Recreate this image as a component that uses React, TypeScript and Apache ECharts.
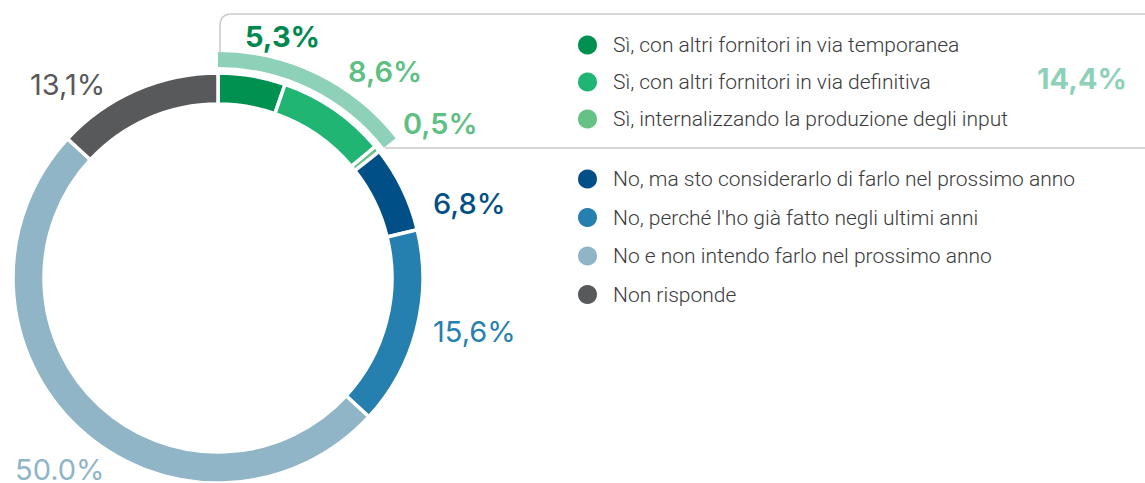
import React, { useEffect, useRef } from "react";
import * as echarts from "echarts";

const categories = [
  "Sì, con altri fornitori in via temporanea",
  "Sì, con altri fornitori in via definitiva",
  "Sì, internalizzando la produzione degli input",
  "No, ma sto considerarlo di farlo nel prossimo anno",
  "No, perché l'ho già fatto negli ultimi anni",
  "No e non intendo farlo nel prossimo anno",
  "Non risponde",
];
const values = [5.3, 8.6, 0.5, 6.8, 15.6, 50.0, 13.1];
const valueLabels = ["5,3%", "8,6%", "0,5%", "6,8%", "15,6%", "50.0%", "13,1%"];
const colors = ["#00904f", "#21b573", "#66c185", "#004f87", "#2580b0", "#8fb5c6", "#58595b"];
const labelColors = ["#00894f", "#5fbf84", "#5fbf84", "#004f86", "#2680b0", "#8fb5c7", "#58585a"];
const labelWeights = [700, 600, 600, 500, 400, 400, 400];
const labelPos: [number, number][] = [
  [245, 36],
  [348, 71],
  [403, 123],
  [433, 203],
  [433, 331],
  [15, 469],
  [30, 84],
];
const groupValue = 14.4;
const groupLabel = "14,4%";

const FONT = "Inter, 'Noto Sans', sans-serif";

echarts.graphic.registerShape(
  "boxline",
  echarts.graphic.extendPath("M220 52 L220 26 Q220 14 232 14 L1145 14 M385 148 L1145 148", {}) as any
);

export default function App() {
  const ref = useRef<HTMLDivElement>(null);
  useEffect(() => {
    if (!ref.current) return;
    const chart = echarts.init(ref.current, null, { renderer: "svg" });
    const data = categories.map((name, i) => ({
      name,
      value: values[i],
      itemStyle: { color: colors[i] },
    }));
    const graphics: any[] = [
      {
        type: "boxline",
        x: 0,
        y: 0,
        silent: true,
        style: { fill: "none", stroke: "#c9c9c9", lineWidth: 1.5 },
      },
      ...valueLabels.map((t, i) => ({
        type: "text",
        x: labelPos[i][0],
        y: labelPos[i][1],
        style: {
          text: t,
          fill: labelColors[i],
          font: `${labelWeights[i]} 29px ${FONT}`,
          textVerticalAlign: "middle",
          verticalAlign: "middle",
        },
      })),
      {
        type: "text",
        x: 1127,
        y: 78,
        style: {
          text: groupLabel,
          fill: "#8ed1b9",
          font: `700 29px ${FONT}`,
          textAlign: "right",
          align: "right",
          textVerticalAlign: "middle",
          verticalAlign: "middle",
        },
      },
    ];
    const legendCommon = {
      orient: "vertical",
      left: 576,
      padding: 0,
      icon: "circle",
      itemWidth: 21,
      itemHeight: 21,
      selectedMode: false,
      textStyle: {
        fontFamily: "Roboto, sans-serif",
        fontWeight: 300,
        fontSize: 21,
        lineHeight: 21,
        color: "#3a3a3a",
        padding: [0, 0, 0, 10],
      },
    };
    chart.setOption({
      animation: false,
      legend: [
        { ...legendCommon, top: 33.5, itemGap: 14, data: categories.slice(0, 3) },
        { ...legendCommon, top: 167.5, itemGap: 15.5, data: categories.slice(3) },
      ],
      series: [
        {
          type: "pie",
          center: [218, 278],
          radius: [174, 205],
          startAngle: 90,
          clockwise: true,
          silent: true,
          label: { show: false },
          labelLine: { show: false },
          itemStyle: { borderColor: "#ffffff", borderWidth: 3.5 },
          data,
        },
        {
          type: "pie",
          center: [218, 278],
          radius: [211, 226],
          startAngle: 90,
          clockwise: true,
          silent: true,
          label: { show: false },
          labelLine: { show: false },
          legendHoverLink: false,
          data: [
            { name: "group", value: groupValue, itemStyle: { color: "#8ed1b9" } },
            { name: "rest", value: 100 - groupValue, itemStyle: { color: "rgba(0,0,0,0)" } },
          ],
        },
      ],
      graphic: graphics,
    });
    return () => chart.dispose();
  }, []);
  return (
    <div
      ref={ref}
      style={{ position: "fixed", left: 0, top: 0, width: 1145, height: 483, background: "#fff" }}
    />
  );
}
